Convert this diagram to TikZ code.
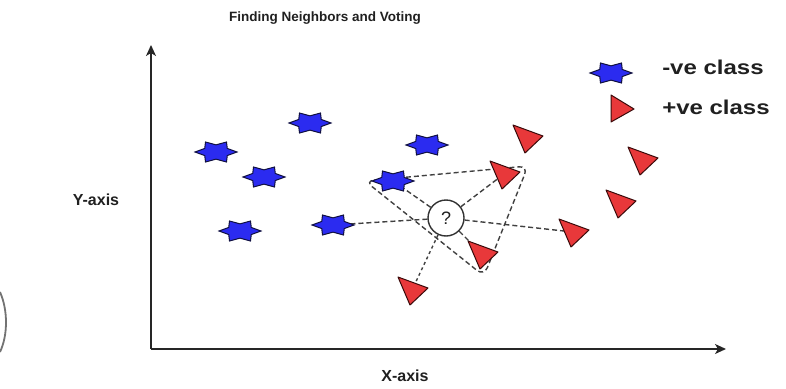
\documentclass[tikz,border=0pt]{standalone}
\usepackage{fontspec}
\setmainfont{Liberation Sans}
\usetikzlibrary{arrows.meta}
\definecolor{starblue}{HTML}{2B2BF0}
\definecolor{stardark}{HTML}{101040}
\definecolor{trired}{HTML}{E8383A}
\definecolor{tridark}{HTML}{3A0A0A}
\definecolor{inktext}{HTML}{202020}
\begin{document}
\begin{tikzpicture}[x=1pt,y=-1pt,
  lbl/.style={font=\bfseries\fontsize{13.5}{15}\selectfont, text=inktext, inner sep=0pt},
  axlbl/.style={lbl, font=\bfseries\fontsize{16}{18}\selectfont},
  leglbl/.style={lbl, anchor=west, xscale=1.2, font=\bfseries\fontsize{20}{22}\selectfont},
  axisline/.style={line width=1.6pt, draw=black!85, -{Stealth[length=11pt,width=10pt,inset=3pt]}},
  vote/.style={dashed, dash pattern=on 5pt off 3pt, line width=1.4pt, draw=black!75},
  negstar/.pic={\draw[fill=starblue, draw=stardark, line width=1pt, line join=miter, yscale=0.55]
     (0:21) -- (30:13) -- (60:21) -- (90:13) -- (120:21) -- (150:13) -- (180:21)
     -- (210:13) -- (240:21) -- (270:13) -- (300:21) -- (330:13) -- cycle;},
  postri/.pic={\draw[fill=trired, draw=tridark, line width=1pt, line join=round]
     (-14,-13) -- (16,-2) -- (-2,15) -- cycle;},
  query/.style={circle, draw=black!80, line width=1.4pt, fill=white, minimum size=36pt, inner sep=0pt,
     font=\fontsize{18}{18}\selectfont, text=inktext}
]
\useasboundingbox (0,0) rectangle (786,388);

% title and axis labels
\node[lbl] (title) at (325,18) {Finding Neighbors and Voting};
\node[axlbl] (ylab) at (96,200) {Y-axis};
\node[axlbl] (xlab) at (405,376) {X-axis};

% axes
\coordinate (origin) at (151,349);
\coordinate (ytip) at (151,45);
\coordinate (xtip) at (726,349);
\draw[axisline] (origin) -- (ytip);
\draw[axisline] (origin) -- (xtip);

% clipped arc at the left border
\draw[black!55, line width=1.8pt] (0,292) .. controls (8,310) and (8,335) .. (0,352);

% negative samples
\coordinate (s1) at (216,152);
\coordinate (s2) at (310,123);
\coordinate (s3) at (264,177);
\coordinate (s4) at (240,231);
\coordinate (s5) at (333,225);
\coordinate (s6) at (427,145);
\coordinate (s7) at (393,181);
% positive samples
\coordinate (t1) at (527,138);
\coordinate (t2) at (504,174);
\coordinate (t3) at (642,160);
\coordinate (t4) at (620,203);
\coordinate (t5) at (573,232);
\coordinate (t6) at (482,254);
\coordinate (t7) at (412,290);

% query point
\node[query] (q) at (446,218) {?};

% neighbourhood outline
\coordinate (n1) at (365,181);
\coordinate (n2) at (528,166);
\coordinate (n3) at (484,276);
\draw[vote, rounded corners=9pt] (n1) -- (n2) -- (n3) -- cycle;

% votes
\foreach \p in {s5,s7,t2,t5,t6}
  \draw[vote] (q) -- (\p);
\draw[vote, dash pattern=on 3pt off 3pt] (q) -- (t7);

% markers
\foreach \p in {s1,s2,s3,s4,s5,s6,s7}
  \pic at (\p) {negstar};
\foreach \p in {t1,t2,t3,t4,t5,t6,t7}
  \pic at (\p) {postri};

% legend
\coordinate (legneg) at (611,73);
\coordinate (legpos) at (622,109);
\pic at (legneg) {negstar};
\draw[fill=trired, draw=tridark, line width=1pt, line join=round]
  ([shift={(-11,-14)}]legpos) -- ([shift={(12,0)}]legpos) -- ([shift={(-11,13)}]legpos) -- cycle;
\node[leglbl] (negtxt) at (662,67) {-ve class};
\node[leglbl] (postxt) at (662,107) {+ve class};
\end{tikzpicture}
\end{document}
